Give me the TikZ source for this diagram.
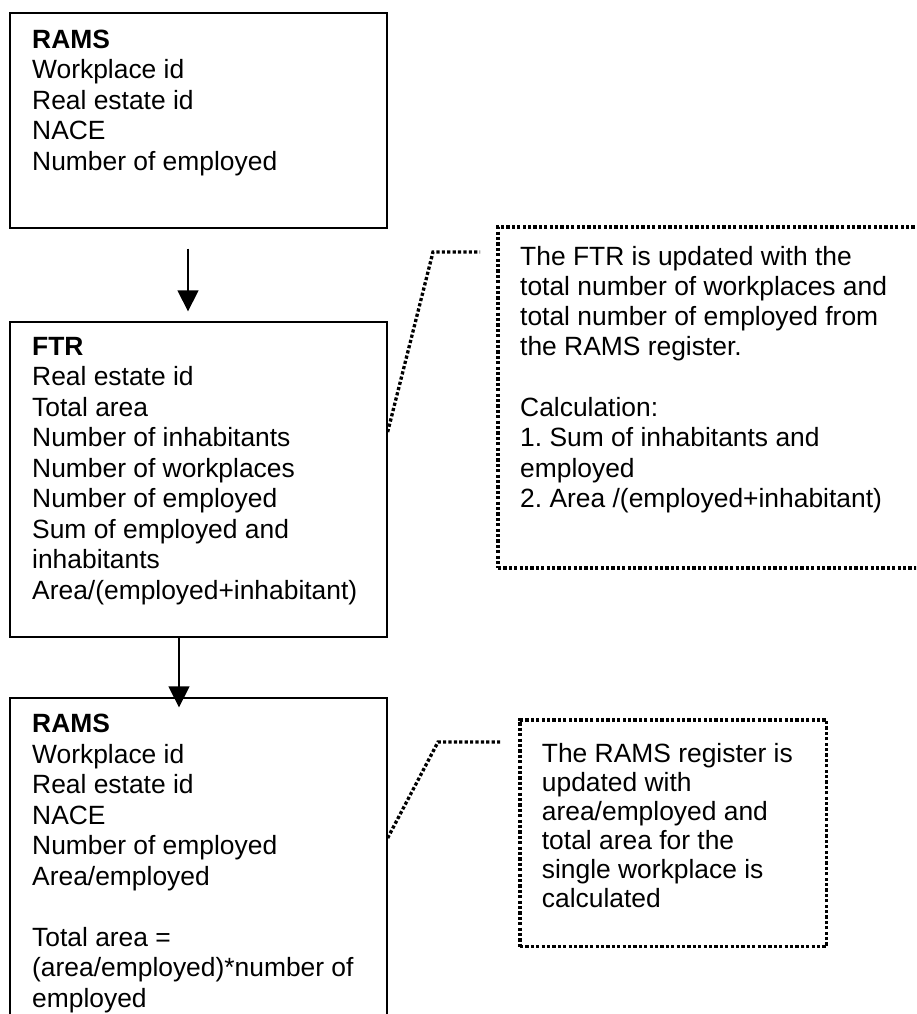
\documentclass[tikz,border=0pt]{standalone}
\usepackage{fontspec}
\setmainfont{Liberation Sans}
\usetikzlibrary{arrows.meta}
\frenchspacing
\tikzset{
  box/.style={draw=black, line width=1.3pt, rectangle, inner sep=0pt, fill=none},
  note/.style={draw=black, line width=3.3pt, dash pattern=on 3.2pt off 2.2pt, rectangle, inner sep=0pt},
  leader/.style={draw=black, line width=3.3pt, dash pattern=on 3.2pt off 2.2pt},
  flow/.style={draw=black, line width=1.3pt, -{Triangle[width=21pt,length=21pt]}},
  txt/.style={anchor=base west, inner sep=0pt, font=\fontsize{26.4pt}{30.5pt}\selectfont},
}
\begin{document}
\begin{tikzpicture}[x=1pt, y=-1pt]
\useasboundingbox (0,0) rectangle (916,1014);
\fill[white] (0,0) rectangle (916,1014);
\clip (0,0) rectangle (916,1014);

% boxes
\node[box, minimum width=377pt, minimum height=215pt] (b1) at (198.5,120.5) {};
\node[box, minimum width=377pt, minimum height=315pt] (b2) at (198.5,479.5) {};
\node[box, minimum width=377pt, minimum height=362pt] (b3) at (198.5,879) {};

% callouts
\node[note, minimum width=432pt, minimum height=341pt] (c1) at (714,397.5) {};
\node[note, minimum width=306.7pt, minimum height=226.7pt] (c2) at (673.35,833.35) {};

% texts
\node[txt] (t1) at (32,48.3) {\parbox[t]{360pt}{\raggedright
\textbf{RAMS}\\
Workplace id\\
Real estate id\\
NACE\\
Number of employed}};

\node[txt] (t2) at (32,355) {\parbox[t]{360pt}{\raggedright
\textbf{FTR}\\
Real estate id\\
Total area\\
Number of inhabitants\\
Number of workplaces\\
Number of employed\\
Sum of employed and\\
inhabitants\\
Area/(employed+inhabitant)}};

\node[txt] (t3) at (32,732.7) {\parbox[t]{360pt}{\raggedright
\textbf{RAMS}\\
Workplace id\\
Real estate id\\
NACE\\
Number of employed\\
Area/employed\\[30.5pt]
Total area =\\
(area/employed)*number of\\
employed}};

\node[txt, font=\fontsize{26.4pt}{30.3pt}\selectfont] (tc1) at (520,265) {\parbox[t]{400pt}{\raggedright
The FTR is updated with the\\
total number of workplaces and\\
total number of employed from\\
the RAMS register.\\[30.3pt]
Calculation:\\
1. Sum of inhabitants and\\
employed\\
2. Area /(employed+inhabitant)}};

\node[txt, font=\fontsize{26.4pt}{29pt}\selectfont] (tc2) at (541.7,762.7) {\parbox[t]{300pt}{\raggedright
The RAMS register is\\
updated with\\
area/employed and\\
total area for the\\
single workplace is\\
calculated}};

% flow arrows
\draw[flow, shorten <=20pt, shorten >=10pt] ([xshift=-10.5pt]b1.south) -- ([xshift=-10.5pt]b2.north);
\draw[flow, shorten >=-10pt] ([xshift=-19.5pt]b2.south) -- ([xshift=-19.5pt]b3.north);

% leader lines
\coordinate (k1) at (433,252);
\coordinate (k1e) at (480,252);
\coordinate (k2) at (438,742);
\coordinate (k2e) at (502,742);
\draw[leader] ([yshift=47.5pt]b2.east) -- (k1) -- (k1e);
\draw[leader] ([yshift=41pt]b3.east) -- (k2) -- (k2e);
\end{tikzpicture}
\end{document}
